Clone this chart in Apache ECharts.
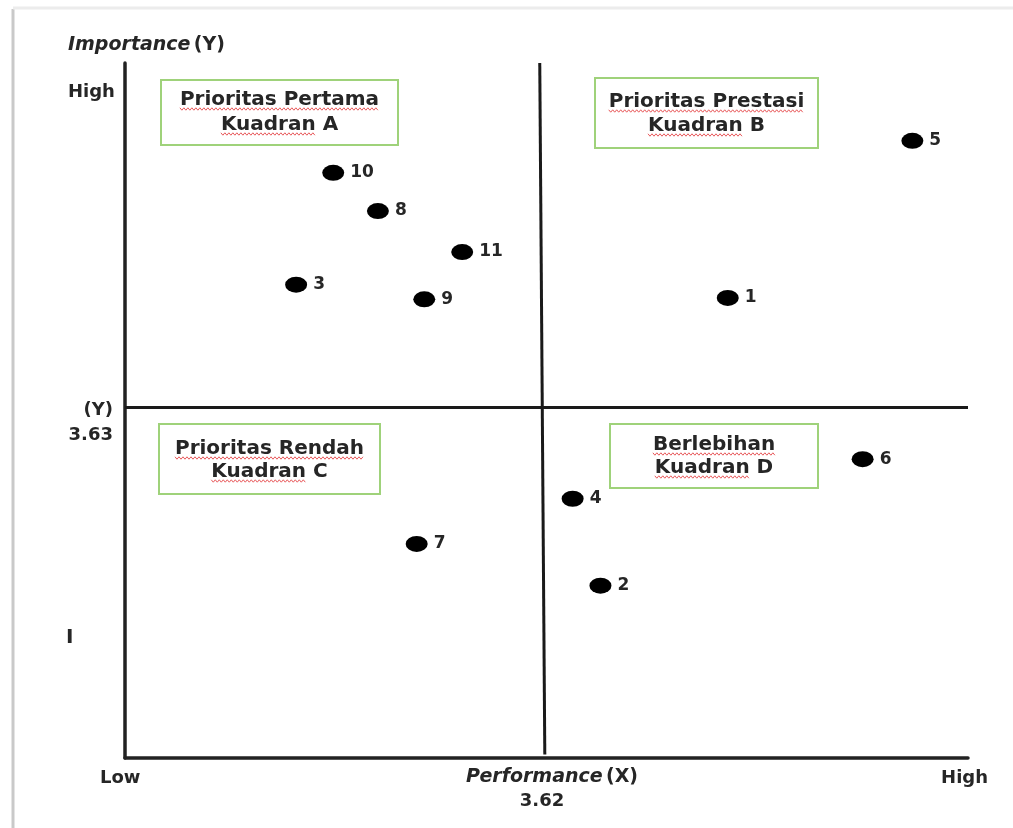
<!DOCTYPE html>
<html>
<head>
<meta charset="utf-8">
<script src="https://cdn.jsdelivr.net/npm/echarts@6/dist/echarts.min.js"></script>
<style>
html,body{margin:0;padding:0;background:#fff;}
#chart{width:1013px;height:828px;}
</style>
</head>
<body>
<div id="chart"></div>
<script>
// Attribute numbers (point labels)
const pointLabels = ['1','2','3','4','5','6','7','8','9','10','11'];
// Performance (X), normalized 0-100 scale (Low -> High)
const performance = [71.5, 56.4, 20.3, 53.1, 93.4, 87.5, 34.6, 30.0, 35.5, 24.7, 40.0];
// Importance (Y), normalized 0-100 scale (Low -> High)
const importance = [66.2, 24.8, 68.1, 37.3, 88.8, 43.0, 30.8, 78.7, 66.0, 84.2, 72.8];
// Quadrant dividers (means): Performance 3.62, Importance 3.63
const xDividerTop = 49.2, xDividerBottom = 49.8;
const yDivider = 50.5;
const xMeanLabel = '3.62';
const yMeanLabel = '3.63';
const quadrantTitles = ['Prioritas Pertama', 'Prioritas Prestasi', 'Prioritas Rendah', 'Berlebihan'];
const quadrantSubs = ['Kuadran A', 'Kuadran B', 'Kuadran C', 'Kuadran D'];

const chart = echarts.init(document.getElementById('chart'));
const FONT = '"DejaVu Sans", "Liberation Sans", sans-serif';
const TXT = '#262626';
const BOXFONT = 'bold 20px ' + FONT;

const measureCtx = document.createElement('canvas').getContext('2d');
function textWidth(t, font) { measureCtx.font = font; return measureCtx.measureText(t).width; }

function wavy(x0, x1, y) {
  const pts = [];
  let up = true;
  for (let x = x0; x <= x1; x += 2) { pts.push([x, y + (up ? -1.2 : 1.2)]); up = !up; }
  return { type: 'polyline', shape: { points: pts }, style: { stroke: '#e8595b', lineWidth: 1, fill: null }, z: 10 };
}

function boxLine(cx, cy, text, underlineAll) {
  const w = textWidth(text, BOXFONT);
  const x0 = cx - w / 2;
  const uw = underlineAll ? w : textWidth(text.split(' ')[0], BOXFONT);
  return [
    { type: 'text', x: cx, y: cy, z: 11,
      style: { text: text, align: 'center', verticalAlign: 'middle', font: BOXFONT, fill: TXT } },
    wavy(x0, x0 + uw, cy + 9)
  ];
}

function box(x, y, w, h, idx, y1, y2) {
  const cx = x + w / 2;
  return [
    { type: 'rect', shape: { x: x, y: y, width: w, height: h },
      style: { fill: '#fff', stroke: '#9fd27a', lineWidth: 2 }, z: 9 },
    ...boxLine(cx, y1, quadrantTitles[idx], true),
    ...boxLine(cx, y2, quadrantSubs[idx], false)
  ];
}

function txt(x, y, text, font, align) {
  return { type: 'text', x: x, y: y,
    style: { text: text, font: font, fill: TXT, align: align || 'left', verticalAlign: 'middle' } };
}

const data = performance.map((x, i) => ({ value: [x, importance[i]], name: pointLabels[i] }));

chart.setOption({
  animation: false,
  backgroundColor: '#fff',
  grid: { left: 125, right: 45, top: 63, bottom: 70 },
  xAxis: { type: 'value', min: 0, max: 100,
    axisLine: { show: true, lineStyle: { color: '#222', width: 3.5 } },
    axisTick: { show: false }, axisLabel: { show: false }, splitLine: { show: false } },
  yAxis: { type: 'value', min: 0, max: 100,
    axisLine: { show: true, lineStyle: { color: '#222', width: 3.5 } },
    axisTick: { show: false }, axisLabel: { show: false }, splitLine: { show: false } },
  series: [{
    type: 'scatter',
    data: data,
    symbol: 'circle',
    symbolSize: [22, 16],
    itemStyle: { color: '#000', opacity: 1 },
    label: { show: true, position: 'right', distance: 6, formatter: p => p.name,
      fontFamily: FONT, fontWeight: 'bold', fontSize: 17, color: TXT },
    markLine: {
      silent: true, symbol: 'none', label: { show: false },
      lineStyle: { color: '#1a1a1a', width: 3, type: 'solid', opacity: 1 },
      data: [
        [{ coord: [xDividerTop, 100] }, { coord: [xDividerBottom, 0.5] }],
        [{ coord: [0, yDivider] }, { coord: [100, yDivider] }]
      ]
    }
  }],
  graphic: [
    // page frame shadow
    { type: 'line', shape: { x1: 13, y1: 9, x2: 13, y2: 828 }, style: { stroke: '#c9c9c9', lineWidth: 3 } },
    { type: 'line', shape: { x1: 13, y1: 8, x2: 1013, y2: 8 }, style: { stroke: '#ececec', lineWidth: 3 } },
    ...box(161, 80, 237, 65, 0, 100, 125),
    ...box(595, 78, 223, 70, 1, 102, 126),
    ...box(159, 424, 221, 70, 2, 449, 472),
    ...box(610, 424, 208, 64, 3, 445, 468),
    {
      type: 'text', x: 68, y: 45,
      style: { text: '{i|Importance} {b|(Y)}', verticalAlign: 'middle',
        rich: { i: { font: 'italic bold 19px ' + FONT, fill: TXT }, b: { font: 'bold 19px ' + FONT, fill: TXT } } }
    },
    txt(68, 92, 'High', 'bold 18px ' + FONT),
    txt(113, 410, '(Y)', 'bold 18px ' + FONT, 'right'),
    txt(113, 435, yMeanLabel, 'bold 18px ' + FONT, 'right'),
    txt(66, 638, 'I', 'bold 20px ' + FONT),
    txt(100, 778, 'Low', 'bold 18px ' + FONT),
    {
      type: 'text', x: 552, y: 777,
      style: { text: '{i|Performance} {b|(X)}', align: 'center', verticalAlign: 'middle',
        rich: { i: { font: 'italic bold 19px ' + FONT, fill: TXT }, b: { font: 'bold 19px ' + FONT, fill: TXT } } }
    },
    txt(542, 801, xMeanLabel, 'bold 18px ' + FONT, 'center'),
    txt(988, 778, 'High', 'bold 18px ' + FONT, 'right')
  ]
});
</script>
</body>
</html>
